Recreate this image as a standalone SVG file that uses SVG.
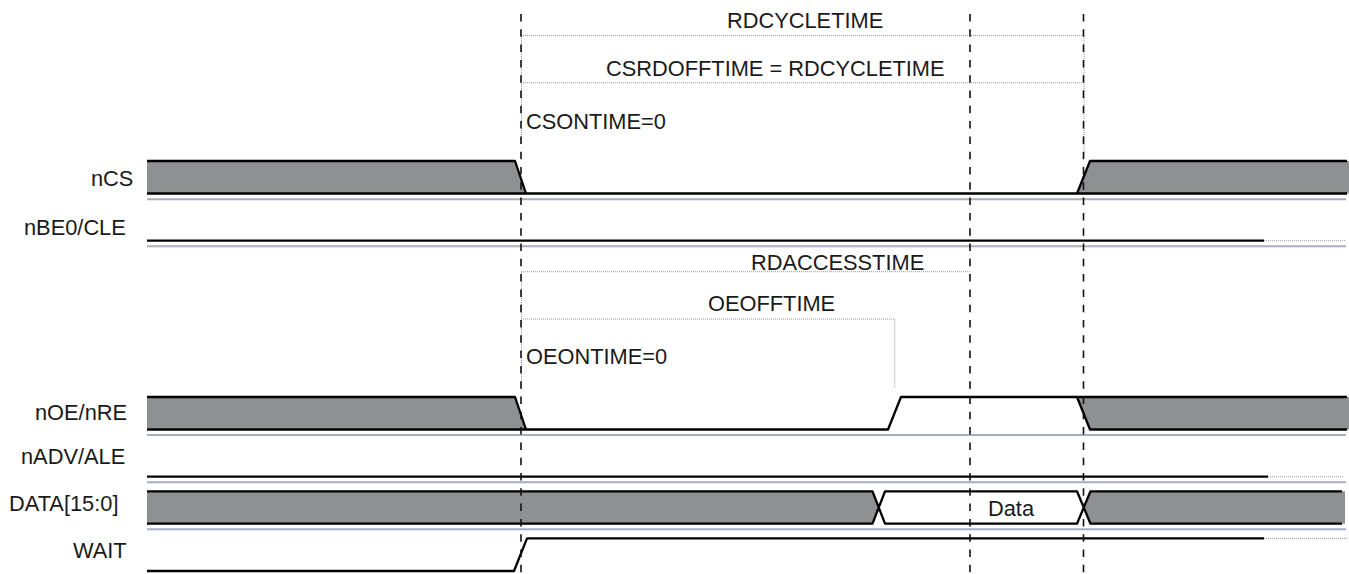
<svg xmlns="http://www.w3.org/2000/svg" width="1349" height="574" viewBox="0 0 1349 574">
<style>
text{font-family:"Liberation Sans",Arial,sans-serif;font-size:21.800px;fill:#1a1a1a}
.g{fill:#8f9092;stroke:none}
.w{fill:none;stroke:#000;stroke-width:2.300;stroke-linejoin:round}
.b{fill:none;stroke:#a8adc6;stroke-width:2}
.d{fill:none;stroke:#999;stroke-width:1;stroke-dasharray:1 1}
.v{fill:none;stroke:#111;stroke-width:1.600;stroke-dasharray:7.500 7.800}
</style>
<rect width="1349" height="574" fill="#fff"/>
<g id="nCS">
<path class="g" d="M147 161H515L526 193.500H147ZM1090 161H1349V193.500H1077Z"/>
<path class="w" d="M147 161H515L526 193.500H1077L1090 161H1347M147 193.500H526M1077 193.500H1347"/>
<path class="b" d="M147 199.300H1346"/>
<text x="91" y="186">nCS</text>
</g>
<g id="nBE0_CLE">
<path class="w" d="M147 240.700H1264"/>
<path class="d" d="M1264 240.700H1346"/>
<path class="b" d="M147 246.300H1346"/>
<text x="24" y="235">nBE0/CLE</text>
</g>
<g id="nOE_nRE">
<path class="g" d="M147 397H515L526 429.500H147ZM1077 397H1349V429.500H1090Z"/>
<path class="w" d="M147 397H515L526 429.500H888L901 397H1347M1077 397L1090 429.500H1347M147 429.500H526"/>
<path class="b" d="M147 435H1346"/>
<text x="35" y="420">nOE/nRE</text>
</g>
<g id="nADV_ALE">
<path class="w" d="M147 476.700H1268"/>
<path class="d" d="M1268 476.700H1344"/>
<path class="b" d="M147 482.300H1346"/>
<text x="21" y="464.300">nADV/ALE</text>
</g>
<g id="DATA">
<path class="g" d="M147 491.300H872.500L878.700 507.500L872.500 523.700H147ZM1090.500 491.300H1345V523.700H1090.500L1084 507.500Z"/>
<path class="w" d="M147 491.300H872.500L885 523.700H1077L1090.500 491.300H1342M147 523.700H872.500L885 491.300H1077L1090.500 523.700H1342"/>
<path class="b" d="M147 529.300H1346"/>
<text x="9" y="510.700">DATA[15:0]</text>
<text x="988" y="516">Data</text>
</g>
<g id="WAIT">
<path class="w" d="M147 571H514L527 538.300H1264"/>
<path class="d" d="M1264 538.300H1347"/>
<text x="73" y="558.300">WAIT</text>
</g>
<g id="connectors">
<path class="d" d="M521 35.500H1083M521 82.800H1083M521 271.700H970M521 319H894.700V388M1084 36V158M521.500 36V140M521.500 272V389"/>
<path class="v" d="M521 14V574M970 14V574M1083.500 14V574"/>
</g>
<g id="timing-labels">
<text x="727" y="27.700">RDCYCLETIME</text>
<text x="606" y="76">CSRDOFFTIME = RDCYCLETIME</text>
<text x="526" y="129.300">CSONTIME=0</text>
<text x="751" y="270">RDACCESSTIME</text>
<text x="708" y="310.700">OEOFFTIME</text>
<text x="526" y="364">OEONTIME=0</text>
</g>
</svg>
